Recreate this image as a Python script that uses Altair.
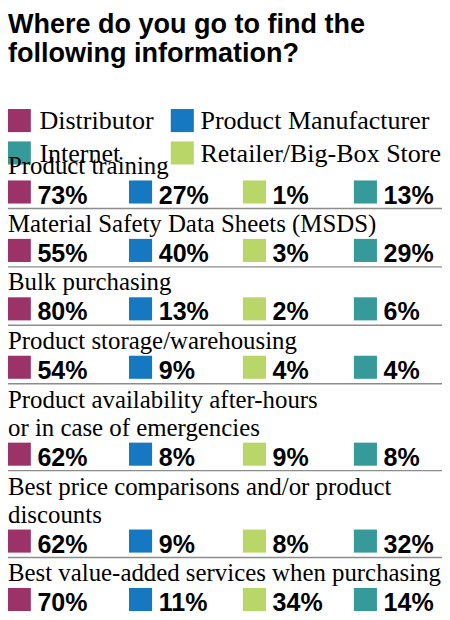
import altair as alt
import pandas as pd

# ---------------- data ----------------
title_lines = ["Where do you go to find the", "following information?"]

sources = ["Distributor", "Product Manufacturer", "Retailer/Big-Box Store", "Internet"]
legend_order = ["Distributor", "Product Manufacturer", "Internet", "Retailer/Big-Box Store"]
colors = ["#9b3268", "#1578c0", "#359a99", "#b9d769"]  # in legend_order

categories = [
    ["Product training"],
    ["Material Safety Data Sheets (MSDS)"],
    ["Bulk purchasing"],
    ["Product storage/warehousing"],
    ["Product availability after-hours", "or in case of emergencies"],
    ["Best price comparisons and/or product", "discounts"],
    ["Best value-added services when purchasing"],
]
distributor = [73, 55, 80, 54, 62, 62, 70]
manufacturer = [27, 40, 13, 9, 8, 9, 11]
retailer = [1, 3, 2, 4, 9, 8, 34]
internet = [13, 29, 6, 4, 8, 32, 14]

# ---------------- layout ----------------
W, H = 442, 612
FIRST_TOP = 170
ROW_PITCH = 59.5
EXTRA_LINE = 29
SQ = 23.5

values_by_source = {
    "Distributor": distributor,
    "Product Manufacturer": manufacturer,
    "Retailer/Big-Box Store": retailer,
    "Internet": internet,
}

rows, labels, seps = [], [], []
extra = 0
for i, lines in enumerate(categories):
    extra += len(lines) - 1
    top = FIRST_TOP + ROW_PITCH * i + EXTRA_LINE * extra
    labels.append({"label": lines,
                   "y": top - 7 - 28.5 * (len(lines) - 1)})
    for k, s in enumerate(sources):
        rows.append({"category": " ".join(lines), "source": s, "col": k,
                     "value": values_by_source[s][i],
                     "txt": f"{values_by_source[s][i]}%",
                     "yc": top + SQ / 2, "yb": top + SQ})
    if i < len(categories) - 1:
        seps.append({"y": top + 28.5})

vals = pd.DataFrame(rows)
labs = pd.DataFrame(labels)
sepdf = pd.DataFrame(seps)

legend = pd.DataFrame({
    "source": legend_order,
    "lcol": [0, 1, 0, 1],
    "lrow": [0, 0, 1, 1],
})

yid = alt.Scale(domain=[0, H], range=[0, H], nice=False, zero=False)
# piecewise scales placing the four value columns and the two legend columns
col_scale = alt.Scale(domain=[0, 1, 2, 3], range=[11.5, 135, 251, 364], nice=False, zero=False)
leg_sq_x = alt.Scale(domain=[0, 1], range=[11.5, 177.5], nice=False, zero=False)
leg_tx_x = alt.Scale(domain=[0, 1], range=[32, 196], nice=False, zero=False)
leg_sq_y = alt.Scale(domain=[0, 1], range=[109, 142], nice=False, zero=False)
color = alt.Color("source:N", scale=alt.Scale(domain=legend_order, range=colors), legend=None)

SERIF = "Liberation Serif"
SANS = "Liberation Sans"

title = alt.Chart(pd.DataFrame({"t": [title_lines]})).mark_text(
    font=SANS, fontSize=27.5, fontWeight="bold", align="left", baseline="alphabetic",
    lineHeight=29, color="#000000"
).encode(x=alt.value(0), y=alt.value(20), text="t")

leg_sq = alt.Chart(legend).mark_square(size=SQ * SQ, opacity=1).encode(
    x=alt.X("lcol:Q", scale=leg_sq_x, axis=None),
    y=alt.Y("lrow:Q", scale=leg_sq_y, axis=None),
    color=color,
)
leg_tx = alt.Chart(legend).mark_text(
    font=SERIF, fontSize=26.5, align="left", baseline="middle", dy=1, color="#000000"
).encode(
    x=alt.X("lcol:Q", scale=leg_tx_x, axis=None),
    y=alt.Y("lrow:Q", scale=leg_sq_y, axis=None),
    text="source:N",
)

lab_tx = alt.Chart(labs).mark_text(
    font=SERIF, fontSize=25.3, align="left", baseline="alphabetic",
    lineHeight=28.5, color="#000000"
).encode(
    x=alt.value(0),
    y=alt.Y("y:Q", scale=yid, axis=None),
    text="label",
)

val_sq = alt.Chart(vals).mark_square(size=SQ * SQ, opacity=1).encode(
    x=alt.X("col:Q", scale=col_scale, axis=None),
    y=alt.Y("yc:Q", scale=yid, axis=None),
    color=color,
)
val_tx = alt.Chart(vals).mark_text(
    font=SANS, fontSize=25.5, fontWeight="bold", align="left", baseline="alphabetic",
    dx=18.5, color="#000000"
).encode(
    x=alt.X("col:Q", scale=col_scale, axis=None),
    y=alt.Y("yb:Q", scale=yid, axis=None),
    text="txt:N",
)

seps_rule = alt.Chart(sepdf).mark_rule(color="#8c8c8c", strokeWidth=1.5).encode(
    x=alt.value(0), x2=alt.value(W),
    y=alt.Y("y:Q", scale=yid, axis=None),
)

chart = alt.layer(
    seps_rule, title, leg_sq, leg_tx, lab_tx, val_sq, val_tx
).resolve_scale(x="independent", y="independent").properties(
    width=W, height=H, autosize=alt.AutoSizeParams(type="none"), padding=0,
    background="#ffffff"
).configure_view(stroke=None)

chart.save("out.html", embed_options={"renderer": "svg", "actions": False})
